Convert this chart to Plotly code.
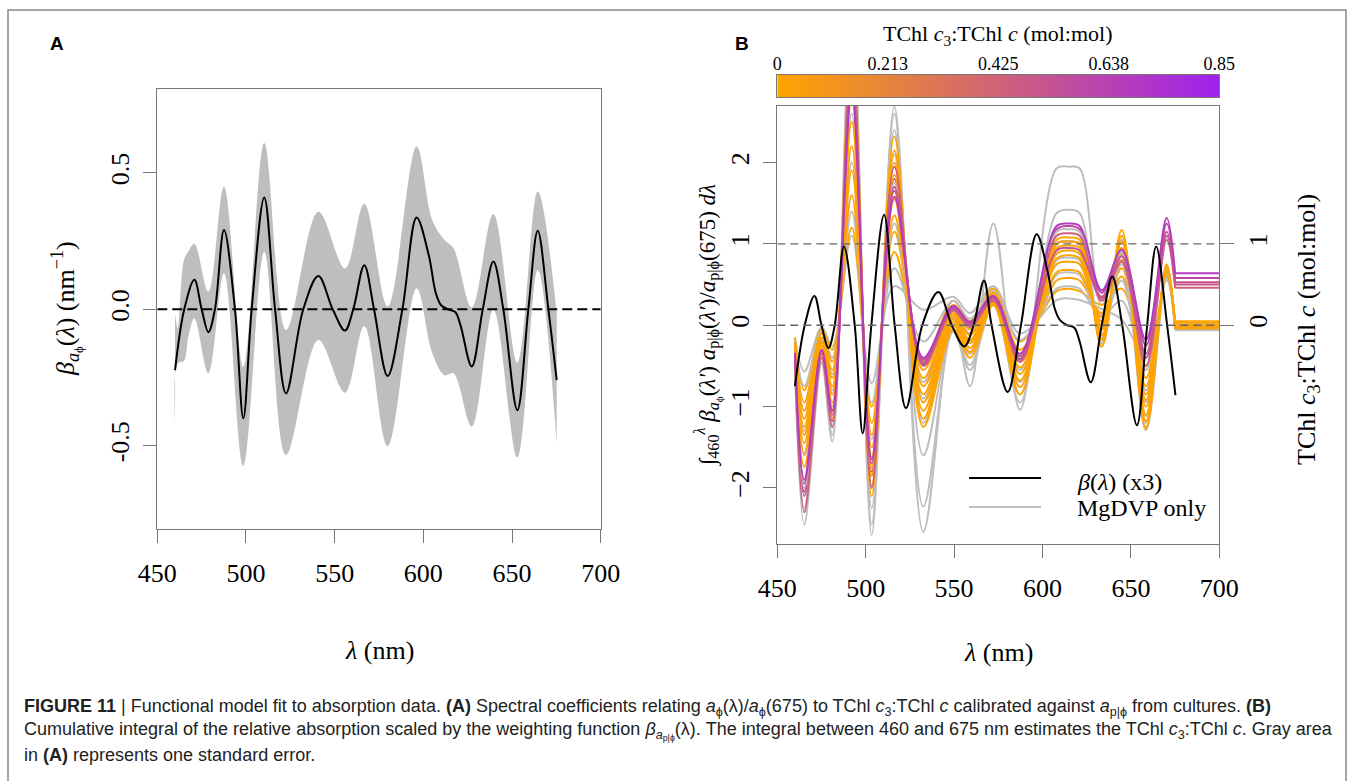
import plotly.graph_objects as go

W, H = 1349, 781
def px(x): return x / W
def py(y): return 1 - y / H

SERIF = "Liberation Serif"
SANS = "Liberation Sans"
GRAY = "#BEBEBE"
AXC = "#777777"

# ---------------- Panel A data ----------------
wl_a = [460, 465.2, 470.9, 475, 478.8, 482.5, 487.6, 493.8, 498.5, 503.2, 510.3, 516.4,
        522.6, 532.3, 540.8, 548.9, 555.8, 560.5, 566.7, 572.2, 579.9, 588.2, 596.2,
        603, 607, 610, 614, 618, 621, 627.3, 633.5, 639.5, 645.1, 653, 659.2, 664.5, 670.5, 675.2]
beta_a = [-0.223, 0, 0.108, 0, -0.084, 0, 0.291, 0, -0.400, 0, 0.410, 0,
          -0.308, 0, 0.122, 0, -0.078, 0, 0.162, 0, -0.245, 0, 0.337,
          0.20, 0.06, 0.015, 0.0, -0.01, -0.06, -0.21, 0, 0.175, 0, -0.370, 0, 0.288, 0, -0.26]

wl_se = [460, 461.5, 465, 467.5, 470.9, 478.8, 487.6, 498.5, 510.3, 522.6, 540.8, 555.8,
         566.7, 579.9, 596.2, 605, 612, 617, 627.3, 639.5, 653, 664.5, 675.2]
se_upper = [-0.015, -0.070, 0.181, 0.212, 0.240, 0.065, 0.450, -0.211, 0.610, -0.076, 0.358, 0.150,
            0.387, 0.010, 0.597, 0.328, 0.254, 0.224, 0.006, 0.350, -0.196, 0.432, -0.015]
se_lower = [-0.419, -0.199, -0.190, -0.100, -0.033, -0.235, 0.132, -0.575, 0.211, -0.535, -0.113, -0.306,
            -0.061, -0.502, 0.077, -0.160, -0.242, -0.235, -0.431, -0.002, -0.544, 0.144, -0.492]

a_xticks = [450, 500, 550, 600, 650, 700]
a_yticks = [-0.5, 0.0, 0.5]
a_yticklabels = ["-0.5", "0.0", "0.5"]

# ---------------- Panel B data ----------------
wl_b = [460, 465.3, 475.1, 481.1, 492.1, 503.4, 516.2, 532.6, 549.5, 559.0,
        572.2, 587.3, 608, 615, 621, 633.5, 644.8, 658.5, 670.2, 675]

orange_curves = [
    [-0.15, -0.80, -0.05, -0.30, 1.20, -1.00, 0.90, -0.45, 0.30, 0.05, 0.45, -0.20, 0.42, 0.45, 0.42, 0.25, 0.45, -0.50, 0.60, 0.04],
    [-0.20, -0.95, -0.10, -0.45, 1.60, -1.20, 1.15, -0.55, 0.25, 0.00, 0.40, -0.30, 0.55, 0.58, 0.55, 0.15, 0.60, -0.65, 0.62, 0.02],
    [-0.22, -1.05, -0.15, -0.55, 1.90, -1.35, 1.35, -0.65, 0.20, -0.05, 0.38, -0.38, 0.65, 0.68, 0.65, 0.10, 0.70, -0.75, 0.65, 0.00],
    [-0.25, -1.15, -0.20, -0.65, 2.20, -1.50, 1.55, -0.75, 0.15, -0.12, 0.35, -0.45, 0.75, 0.78, 0.75, 0.05, 0.80, -0.85, 0.66, -0.01],
    [-0.28, -1.25, -0.22, -0.75, 2.50, -1.62, 1.70, -0.85, 0.12, -0.18, 0.33, -0.52, 0.82, 0.86, 0.82, 0.00, 0.88, -0.92, 0.68, 0.03],
    [-0.32, -1.35, -0.26, -0.85, 2.80, -1.75, 1.85, -0.95, 0.08, -0.22, 0.30, -0.60, 0.88, 0.92, 0.88, -0.05, 0.95, -1.00, 0.70, -0.02],
    [-0.36, -1.45, -0.30, -0.95, 3.10, -1.85, 2.00, -1.05, 0.05, -0.28, 0.28, -0.68, 0.95, 0.98, 0.95, -0.12, 1.03, -1.10, 0.72, 0.00],
    [-0.40, -1.58, -0.34, -1.05, 3.30, -1.98, 2.15, -1.15, 0.00, -0.33, 0.26, -0.76, 1.00, 1.03, 1.00, -0.18, 1.10, -1.18, 0.74, -0.04],
    [-0.45, -1.74, -0.38, -1.15, 3.60, -2.10, 2.32, -1.25, -0.05, -0.40, 0.25, -0.85, 1.05, 1.08, 1.05, -0.26, 1.17, -1.27, 0.75, 0.05],
]
orange_ratio = [0.0, 0.02, 0.0, 0.03, 0.0, 0.01, 0.0, 0.02, 0.0]

pink_curves = [
    [-0.40, -2.30, -0.40, -1.25, 3.40, -2.00, 1.95, -0.50, 0.18, -0.02, 0.30, -0.45, 1.10, 1.13, 1.10, 0.30, 0.78, -0.50, 1.05, 0.46],
    [-0.38, -2.10, -0.35, -1.15, 3.20, -1.85, 1.80, -0.45, 0.20, 0.00, 0.32, -0.40, 1.00, 1.03, 1.00, 0.33, 0.80, -0.40, 1.10, 0.50],
    [-0.35, -1.95, -0.32, -1.10, 3.00, -1.70, 1.70, -0.42, 0.22, 0.02, 0.33, -0.38, 0.92, 0.95, 0.92, 0.35, 0.85, -0.35, 1.15, 0.53],
    [-0.36, -2.05, -0.34, -1.18, 3.10, -1.80, 1.65, -0.48, 0.20, 0.00, 0.34, -0.42, 1.18, 1.22, 1.18, 0.40, 0.90, -0.25, 1.25, 0.58],
    [-0.34, -1.90, -0.30, -1.05, 2.90, -1.65, 1.58, -0.40, 0.24, 0.04, 0.36, -0.35, 1.22, 1.25, 1.22, 0.43, 0.93, -0.18, 1.32, 0.64],
]
pink_ratio = [0.45, 0.48, 0.52, 0.60, 0.68]

gray_curves = [
    [-0.15, -0.57, -0.02, -0.26, 1.10, -0.71, 0.48, 0.19, 0.35, 0.15, 0.48, -0.10, 0.31, 0.33, 0.31, 0.20, 0.07, -0.40, 0.55, -0.03],
    [-0.18, -0.75, -0.08, -0.40, 1.40, -0.95, 0.70, -0.20, 0.30, 0.08, 0.42, -0.18, 0.45, 0.48, 0.45, 0.12, 0.30, -0.55, 0.58, -0.05],
    [-0.25, -1.05, -0.18, -0.60, 2.00, -1.40, 1.25, -0.70, 0.18, -0.10, 0.36, -0.40, 0.62, 0.65, 0.62, 0.05, 0.55, -0.80, 0.64, 0.01],
    [-0.30, -1.30, -0.25, -0.80, 2.60, -1.70, 1.75, -0.90, 0.10, -0.20, 0.32, -0.55, 0.80, 0.83, 0.80, -0.05, 0.75, -0.95, 0.68, -0.02],
    [-0.38, -1.60, -0.32, -1.00, 3.20, -2.00, 2.10, -1.20, 0.02, -0.35, 0.28, -0.70, 1.00, 1.03, 1.00, -0.15, 0.95, -1.12, 0.72, 0.02],
    [-0.45, -2.00, -0.40, -1.25, 3.60, -2.25, 2.40, -1.60, -0.05, -0.49, 0.25, -0.85, 1.15, 1.18, 1.15, -0.22, 1.05, -1.20, 0.74, -0.04],
    [-0.50, -2.25, -0.45, -1.35, 3.90, -2.45, 2.60, -2.23, -0.08, -0.55, 0.30, -0.95, 1.38, 1.42, 1.38, -0.26, 0.90, -1.25, 0.70, -0.06],
    [-0.55, -2.45, -0.47, -1.43, 4.20, -2.58, 2.69, -2.54, 0.10, -0.75, 1.25, -1.04, 1.93, 1.95, 1.93, 0.25, 0.80, -1.29, 0.65, 0.00],
]

wl_black_b = [460, 465.5, 471.0, 475, 478.9, 482.5, 487.7, 493.8, 498.3, 503.2, 510.4, 516.4,
              522.8, 532.0, 541.1, 548.7, 555.8, 561.0, 566.9, 571.2, 580.3, 587.8, 596.7,
              603, 607, 610, 614, 618, 621, 627.3, 633.5, 639.5, 645.1, 653.4, 659.2, 664.3, 670.5, 675.2]
beta_x3_b = [-0.75, 0, 0.36, 0, -0.28, 0, 0.97, 0, -1.33, 0, 1.36, 0,
             -1.02, 0, 0.41, 0, -0.26, 0, 0.55, 0, -0.82, 0, 1.12,
             0.65, 0.20, 0.06, 0.0, -0.03, -0.20, -0.70, 0, 0.60, 0, -1.23, 0, 0.97, 0, -0.86]

b_xticks = [450, 500, 550, 600, 650, 700]
b_yticks = [-2, -1, 0, 1, 2]
b_rticks = [0, 1]

cbar_ticks = [0, 0.2125, 0.425, 0.6375, 0.85]
cbar_labels = ["0", "0.213", "0.425", "0.638", "0.85"]
CMIN, CMAX = 0.0, 0.85
C_LOW = (255, 165, 0)
C_HIGH = (160, 32, 240)

def ratio_color(r):
    t = (r - CMIN) / (CMAX - CMIN)
    c = [round(C_LOW[i] + (C_HIGH[i] - C_LOW[i]) * t) for i in range(3)]
    return "rgb(%d,%d,%d)" % tuple(c)

fig = go.Figure()

# ---- Panel A traces
fig.add_trace(go.Scatter(x=wl_se, y=se_lower, mode="lines", line=dict(width=0, shape="spline", color=GRAY),
                         xaxis="x", yaxis="y", showlegend=False, hoverinfo="skip"))
fig.add_trace(go.Scatter(x=wl_se, y=se_upper, mode="lines", line=dict(width=0, shape="spline", color=GRAY),
                         fill="tonexty", fillcolor=GRAY, xaxis="x", yaxis="y", showlegend=False, hoverinfo="skip"))
fig.add_trace(go.Scatter(x=wl_a, y=beta_a, mode="lines", line=dict(width=2, shape="spline", color="black"),
                         xaxis="x", yaxis="y", showlegend=False))

# ---- Panel B traces (interleaved draw order)
order = [(gray_curves[-1], GRAY)]
for i in range(max(len(orange_curves), len(gray_curves))):
    if i < len(gray_curves) - 1:
        order.append((gray_curves[i], GRAY))
    if i < len(orange_curves):
        order.append((orange_curves[i], ratio_color(orange_ratio[i])))
    if i < len(pink_curves) and i % 2 == 1:
        order.append((pink_curves[i], ratio_color(pink_ratio[i])))
for i in range(len(pink_curves)):
    if i % 2 == 0:
        order.append((pink_curves[i], ratio_color(pink_ratio[i])))

for vals, col in order:
    fig.add_trace(go.Scatter(x=wl_b, y=vals, mode="lines", line=dict(width=2, shape="spline", color=col),
                             xaxis="x2", yaxis="y2", showlegend=False, hoverinfo="skip"))
    fig.add_trace(go.Scatter(x=[wl_b[-1], 700], y=[vals[-1], vals[-1]], mode="lines",
                             line=dict(width=2, color=col), xaxis="x2", yaxis="y2",
                             showlegend=False, hoverinfo="skip"))

fig.add_trace(go.Scatter(x=wl_black_b, y=beta_x3_b, mode="lines", line=dict(width=2, shape="spline", color="black"),
                         xaxis="x2", yaxis="y2", showlegend=False))

fig.add_trace(go.Scatter(x=[450], y=[0], mode="markers", marker=dict(opacity=0), xaxis="x2", yaxis="y4",
                         showlegend=False, hoverinfo="skip"))

fig.add_trace(go.Heatmap(x=cbar_ticks, y=[-0.5, 0.5], z=[cbar_ticks, cbar_ticks], zmin=CMIN, zmax=CMAX,
                         colorscale=[[0, "rgb(%d,%d,%d)" % C_LOW], [1, "rgb(%d,%d,%d)" % C_HIGH]],
                         zsmooth="best", showscale=False, xaxis="x3", yaxis="y3", hoverinfo="skip"))

tickfont = dict(family=SERIF, size=26, color="black")
common = dict(showgrid=False, zeroline=False, showline=True, linecolor=AXC, linewidth=1.3, mirror=True,
              ticks="outside", ticklen=13, tickcolor=AXC, tickwidth=1.3, tickfont=tickfont, automargin=False)

fig.update_layout(
    width=W, height=H, margin=dict(l=0, r=0, t=0, b=0, pad=0, autoexpand=False),
    showlegend=False,
    paper_bgcolor="white", plot_bgcolor="white",
    xaxis=dict(domain=[px(157.3), px(600.7)], range=[450, 700], tickvals=a_xticks, anchor="y",
               ticklabelstandoff=7, **common),
    yaxis=dict(domain=[py(529.3), py(89.3)], range=[-0.807, 0.807], tickvals=a_yticks, ticktext=a_yticklabels,
               tickangle=-90, anchor="x", ticklabelstandoff=4, **common),
    xaxis2=dict(domain=[px(777.3), px(1219.3)], range=[450, 700], tickvals=b_xticks, anchor="y2",
                ticklabelstandoff=8, **common),
    yaxis2=dict(domain=[py(544), py(105.7)], range=[-2.69, 2.70], tickvals=b_yticks, tickangle=-90,
                anchor="x2", ticklabelstandoff=4, **common),
    yaxis4=dict(overlaying="y2", side="right", range=[-2.69, 2.70], tickvals=b_rticks, tickangle=-90,
                anchor="x2", showgrid=False, zeroline=False, showline=False, ticks="outside", ticklen=14,
                tickcolor=AXC, tickwidth=1.3, tickfont=tickfont, ticklabelstandoff=1, automargin=False),
    xaxis3=dict(domain=[px(777.3), px(1219.3)], range=[0, 0.85], tickvals=cbar_ticks, ticktext=cbar_labels,
                side="top", anchor="y3", ticks="", showgrid=False, zeroline=False, showline=True,
                linecolor=AXC, linewidth=1, mirror=True, tickfont=dict(family=SERIF, size=18, color="black"),
                ticklabelstandoff=-3, automargin=False),
    yaxis3=dict(domain=[py(97.3), py(75)], range=[-0.5, 0.5], anchor="x3", showticklabels=False, ticks="",
                showgrid=False, zeroline=False, showline=True, linecolor=AXC, linewidth=1, mirror=True,
                automargin=False),
)

shapes = [
    dict(type="rect", xref="paper", yref="paper", x0=px(8), x1=px(1346), y0=py(795), y1=py(10),
         line=dict(color="#888888", width=1.5), layer="below"),
    dict(type="line", xref="x", yref="y", x0=450, x1=700, y0=0, y1=0,
         line=dict(color="black", width=2, dash="10px,5px")),
    dict(type="line", xref="x2", yref="y2", x0=450, x1=700, y0=0, y1=0,
         line=dict(color="#666666", width=1.3, dash="8px,5px")),
    dict(type="line", xref="x2", yref="y2", x0=450, x1=700, y0=1, y1=1,
         line=dict(color="#666666", width=1.3, dash="8px,5px")),
    dict(type="line", xref="paper", yref="paper", x0=px(969), x1=px(1041), y0=py(478), y1=py(478),
         line=dict(color="black", width=2)),
    dict(type="line", xref="paper", yref="paper", x0=px(969), x1=px(1041), y0=py(507), y1=py(507),
         line=dict(color=GRAY, width=2)),
]
fig.update_layout(shapes=shapes)

def ann(text, x, y, size=26, family=SERIF, angle=0, xanchor="center", color="black"):
    return dict(text=text, x=px(x), y=py(y), xref="paper", yref="paper", showarrow=False,
                font=dict(family=family, size=size, color=color), textangle=angle,
                xanchor=xanchor, yanchor="middle")

CAP = 18.0
annotations = [
    ann("<b>A</b>", 57, 43, size=19, family=SANS),
    ann("<b>B</b>", 742, 43, size=19, family=SANS),
    ann("<i>β</i><sub><i>a</i><sub>ϕ</sub></sub>(<i>λ</i>) (nm<sup>−1</sup>)", 66, 309, angle=-90),
    ann("<i>λ</i> (nm)", 379, 650),
    ann("<i>λ</i> (nm)", 998, 652),
    ann("∫<sub>460</sub><sup><i>λ</i></sup> <i>β</i><sub><i>a</i><sub>ϕ</sub></sub>(<i>λ′</i>) "
        "<i>a</i><sub>p|ϕ</sub>(<i>λ′</i>)/<i>a</i><sub>p|ϕ</sub>(675) <i>dλ</i>", 708, 325, size=23, angle=-90),
    ann("TChl <i>c</i><sub>3</sub>:TChl <i>c</i> (mol:mol)", 1308, 330, angle=-90),
    ann("TChl <i>c</i><sub>3</sub>:TChl <i>c</i> (mol:mol)", 998, 35, size=22),
    ann("<i>β</i>(<i>λ</i>) (x3)", 1075, 482, size=24, xanchor="left"),
    ann("MgDVP only", 1075, 508, size=24, xanchor="left"),
    ann("<b>FIGURE 11</b> | Functional model fit to absorption data. <b>(A)</b> Spectral coefficients relating "
        "<i>a</i><sub>ϕ</sub>(λ)/<i>a</i><sub>ϕ</sub>(675) to TChl <i>c</i><sub>3</sub>:TChl <i>c</i> calibrated against "
        "<i>a</i><sub>p|ϕ</sub> from cultures. <b>(B)</b>", 22, 707, size=CAP, family=SANS, xanchor="left",
        color="#222222"),
    ann("Cumulative integral of the relative absorption scaled by the weighting function "
        "<i>β</i><sub><i>a</i><sub>p|ϕ</sub></sub>(λ). The integral between 460 and 675 nm estimates the TChl "
        "<i>c</i><sub>3</sub>:TChl <i>c</i>. Gray area", 22, 731, size=CAP, family=SANS, xanchor="left",
        color="#222222"),
    ann("in <b>(A)</b> represents one standard error.", 22, 755, size=CAP, family=SANS, xanchor="left",
        color="#222222"),
]
fig.update_layout(annotations=annotations)

fig.write_html("out.html", config={"displayModeBar": False},
               post_script="document.body.style.margin='0';document.body.style.overflow='hidden';")
